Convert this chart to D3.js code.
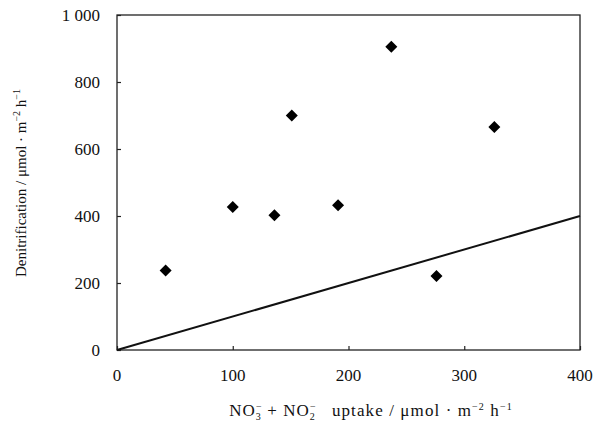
<!DOCTYPE html>
<html>
<head>
<meta charset="utf-8">
<script src="https://cdn.jsdelivr.net/npm/d3@7"></script>
<style>
  body { margin: 0; background: #fff; }
  text { font-family: "Liberation Serif", "DejaVu Serif", serif; fill: #111; }
</style>
</head>
<body>
<div id="chart"></div>
<script>
// Dados
const uptake = [42, 100, 136, 151, 191, 237, 276, 326];
const denitrification = [237, 427, 402, 700, 432, 905, 221, 666];
const xTicks = [0, 100, 200, 300, 400];
const yTicks = [0, 200, 400, 600, 800, 1000];
const refLine = [[0, 0], [400, 400]];

const width = 609, height = 430;
const margin = { top: 15, right: 29, bottom: 80, left: 117 };
const innerW = width - margin.left - margin.right;
const innerH = height - margin.top - margin.bottom;

const svg = d3.select("#chart").append("svg")
    .attr("width", width)
    .attr("height", height);

const g = svg.append("g")
    .attr("transform", `translate(${margin.left},${margin.top})`);

const x = d3.scaleLinear().domain([0, 400]).range([0, innerW]);
const y = d3.scaleLinear().domain([0, 1000]).range([innerH, 0]);

// Moldura
g.append("rect")
    .attr("width", innerW)
    .attr("height", innerH)
    .attr("fill", "none")
    .attr("stroke", "#222")
    .attr("stroke-width", 1.3);

// Eixos com marcas para dentro
const fmt = d => d === 1000 ? "1 000" : d;
const xAxis = g.append("g")
    .attr("transform", `translate(0,${innerH})`)
    .call(d3.axisTop(x).tickValues(xTicks).tickSize(4).tickFormat(""));
xAxis.select(".domain").remove();

const yAxis = g.append("g")
    .call(d3.axisRight(y).tickValues(yTicks).tickSize(4).tickFormat(""));
yAxis.select(".domain").remove();
g.selectAll(".tick line").attr("stroke", "#222").attr("stroke-width", 1.2);

// Rótulos dos ticks
g.selectAll(".xlab")
    .data(xTicks)
    .enter().append("text")
    .attr("x", d => x(d))
    .attr("y", innerH + 31)
    .attr("text-anchor", "middle")
    .style("font-size", "17px")
    .text(d => d);

g.selectAll(".ylab")
    .data(yTicks)
    .enter().append("text")
    .attr("x", -17)
    .attr("y", d => y(d))
    .attr("dy", "0.35em")
    .attr("text-anchor", "end")
    .style("font-size", "17px")
    .text(fmt);

// Linha 1:1
g.append("path")
    .datum(refLine)
    .attr("d", d3.line().x(d => x(d[0])).y(d => y(d[1])))
    .attr("stroke", "#111")
    .attr("stroke-width", 2)
    .attr("fill", "none");

// Pontos (losangos)
const diamond = d3.symbol().type(d3.symbolSquare).size(72);
g.selectAll(".pt")
    .data(uptake.map((u, i) => ({ u, d: denitrification[i] })))
    .enter().append("path")
    .attr("d", diamond)
    .attr("transform", d => `translate(${x(d.u)},${y(d.d)}) rotate(45)`)
    .attr("fill", "#000");

// Rótulo do eixo X
const xl = svg.append("text")
    .attr("x", 371)
    .attr("y", 416)
    .attr("text-anchor", "middle")
    .style("font-size", "17px")
    .style("letter-spacing", "1.1px");
xl.append("tspan").text("NO");
xl.append("tspan").attr("dy", -6).style("font-size", "10px").text("\u2212");
xl.append("tspan").attr("dy", 10).attr("dx", -7).style("font-size", "10px").text("3");
xl.append("tspan").attr("dy", -4).text(" + NO");
xl.append("tspan").attr("dy", -6).style("font-size", "10px").text("\u2212");
xl.append("tspan").attr("dy", 10).attr("dx", -7).style("font-size", "10px").text("2");
xl.append("tspan").attr("dy", -4).text("\u00a0\u00a0\u00a0uptake / \u03bcmol \u00b7 m");
xl.append("tspan").attr("dy", -6).style("font-size", "10px").text("\u22122");
xl.append("tspan").attr("dy", 6).text(" h");
xl.append("tspan").attr("dy", -6).style("font-size", "10px").text("\u22121");

// Rótulo do eixo Y
const yl = svg.append("text")
    .attr("transform", "translate(26,183) rotate(-90)")
    .attr("text-anchor", "middle")
    .style("font-size", "15px");
yl.append("tspan").text("Denitrification / \u03bcmol \u00b7 m");
yl.append("tspan").attr("dy", -6).style("font-size", "10px").text("\u22122");
yl.append("tspan").attr("dy", 6).text(" h");
yl.append("tspan").attr("dy", -6).style("font-size", "10px").text("\u22121");
</script>
</body>
</html>
